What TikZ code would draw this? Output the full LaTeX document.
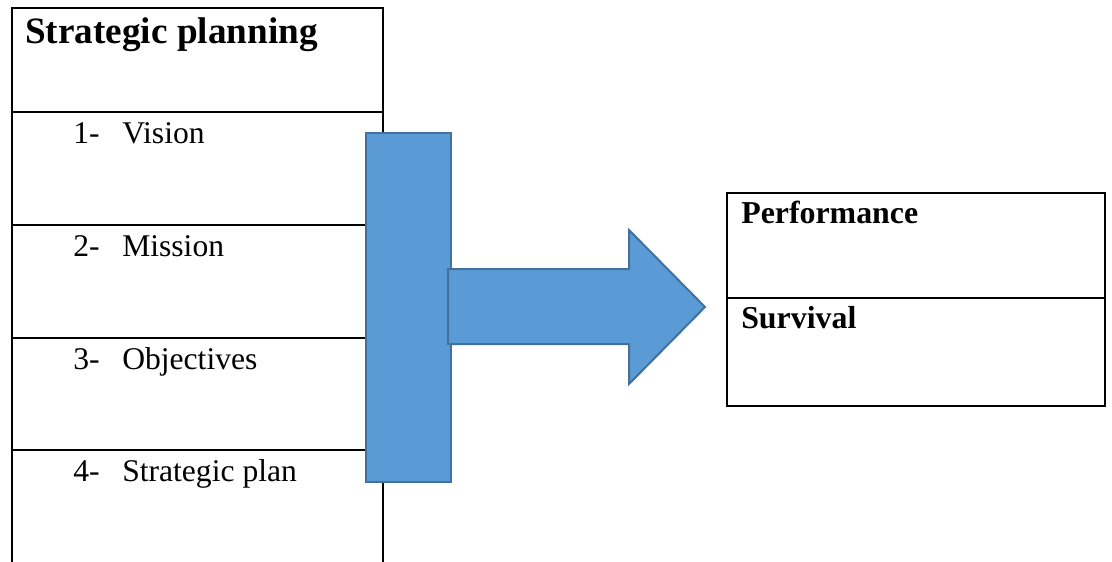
\documentclass[tikz,border=0pt]{standalone}
\usepackage{fontspec}
\setmainfont{Liberation Serif}
\usetikzlibrary{positioning}
\definecolor{barfill}{HTML}{5B9BD5}
\definecolor{barline}{HTML}{41719C}

\begin{document}
\begin{tikzpicture}[x=0.75pt,y=-0.75pt,
  every node/.style={inner sep=0pt, anchor=base west},
  grid/.style={draw=black, line width=1.5pt},
  item/.style={font=\fontsize{23.7}{28}\selectfont},
  heading/.style={font=\fontsize{27.9}{32}\selectfont\bfseries},
  result/.style={font=\fontsize{23.9}{28}\selectfont\bfseries},
  blueshape/.style={fill=barfill, draw=barline, line width=1.5pt, line join=miter}
  ]
  \useasboundingbox (0,0) rectangle (1112,561);
  \clip (0,0) rectangle (1112,561);
  % left table
  \draw[grid] (12,600) -- (12,8) -- (383,8) -- (383,600);
  \foreach \y in {112,225,338,450} \draw[grid] (12,\y) -- (383,\y);
  \node[heading] (plan) at (25,43) {Strategic planning};
  \foreach \n/\txt/\y in {1/Vision/143, 2/Mission/256, 3/Objectives/369, 4/Strategic plan/481} {
    \node[item] (num\n) at (73,\y) {\n-};
    \node[item] (stage\n) at (122,\y) {\txt};
  }
  % right table
  \draw[grid] (727,193) rectangle (1105,406);
  \draw[grid] (727,298) -- (1105,298);
  \node[result] (perf) at (741,223) {Performance};
  \node[result] (surv) at (741,328) {Survival};
  % blue bar and arrow
  \draw[blueshape] (366,133) rectangle (451,482);
  \draw[blueshape] (448,269) -- (629,269) -- (629,230) -- (705,307)
    -- (629,384) -- (629,344) -- (448,344) -- cycle;
\end{tikzpicture}
\end{document}
